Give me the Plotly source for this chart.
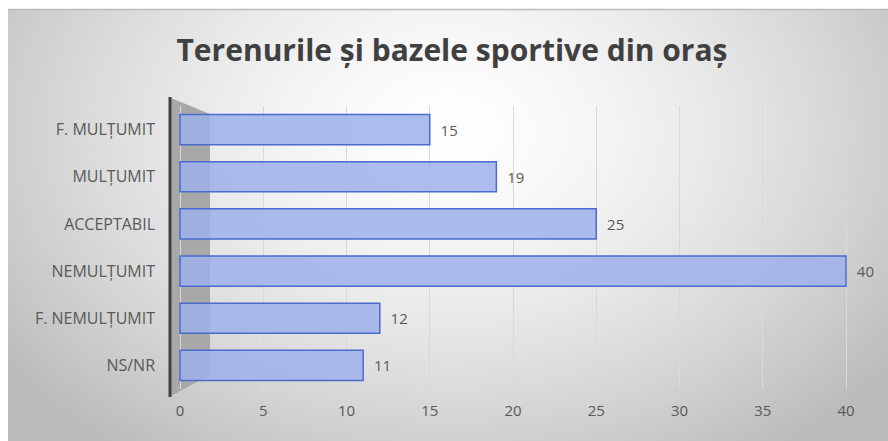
import base64
import struct
import zlib

import numpy as np
import plotly.graph_objects as go

# ---- data (top-to-bottom in the reference) ----
categories = ["F. MULȚUMIT", "MULȚUMIT", "ACCEPTABIL", "NEMULȚUMIT", "F. NEMULȚUMIT", "NS/NR"]
values = [15, 19, 25, 40, 12, 11]
x_ticks = [0, 5, 10, 15, 20, 25, 30, 35, 40]
title_text = "Terenurile și bazele sportive din oraș"

# ---- layout geometry (pixels) ----
W, H = 888, 441
ML, MR, MT, MB = 170, 18, 106, 52
PW, PH = W - ML - MR, H - MT - MB
X0_PX, X40_PX = 180, 846
ppu = (X40_PX - X0_PX) / 40.0
x_range = [(ML - X0_PX) / ppu, (W - MR - X0_PX) / ppu]


def px(xp):
    return (xp - ML) / PW


def py(yp):
    return (H - MB - yp) / PH


# ---- radial gradient background as PNG ----
def gradient_png(w, h):
    yy, xx = np.mgrid[0:h, 0:w].astype(float)
    cx, cy, rx, ry = w * 0.50, h * 0.28, w * 0.58, h * 0.85
    t = np.sqrt(((xx - cx) / rx) ** 2 + ((yy - cy) / ry) ** 2)
    t = np.clip(t, 0, 1.15)
    g = 255 - 60 * (t ** 1.5)
    g = np.clip(g, 188, 255).astype(np.uint8)
    raw = b"".join(b"\x00" + g[r].tobytes() for r in range(h))

    def chunk(tag, data):
        c = struct.pack(">I", len(data)) + tag + data
        return c + struct.pack(">I", zlib.crc32(tag + data) & 0xFFFFFFFF)

    png = b"\x89PNG\r\n\x1a\n"
    png += chunk(b"IHDR", struct.pack(">IIBBBBB", w, h, 8, 0, 0, 0, 0))
    png += chunk(b"IDAT", zlib.compress(raw, 9))
    png += chunk(b"IEND", b"")
    return "data:image/png;base64," + base64.b64encode(png).decode()


BG_X0, BG_Y0 = 8, 9
bg_w, bg_h = W - BG_X0, H - BG_Y0
bg_src = gradient_png(bg_w // 2, bg_h // 2)

cats_plot = categories[::-1]
vals_plot = values[::-1]

fig = go.Figure()
fig.add_trace(
    go.Bar(
        y=cats_plot,
        x=vals_plot,
        orientation="h",
        marker=dict(color="rgba(158,178,234,0.85)", line=dict(color="#4a6bd0", width=1.5)),
        text=["  " + str(v) for v in vals_plot],
        textposition="outside",
        textfont=dict(family="Open Sans", size=15, color="#595959"),
        cliponaxis=False,
        hoverinfo="skip",
    )
)

wall_path = "M {} {} L {} {} L {} {} L {} {} Z".format(
    px(171), py(98), px(210), py(114), px(210), py(375), px(171), py(396)
)

fig.update_layout(
    width=W,
    height=H,
    margin=dict(l=ML, r=MR, t=MT, b=MB),
    paper_bgcolor="white",
    plot_bgcolor="rgba(0,0,0,0)",
    showlegend=False,
    bargap=0.36,
    title=dict(
        text=title_text,
        x=452 / W,
        xanchor="center",
        xref="container",
        y=1 - 50 / H,
        yanchor="middle",
        yref="container",
        font=dict(family="Open Sans", size=30, color="#404040", weight=700),
    ),
    xaxis=dict(
        range=x_range,
        tickvals=x_ticks,
        ticktext=[str(t) for t in x_ticks],
        showgrid=True,
        gridcolor="#d9d9d9",
        gridwidth=1,
        zeroline=False,
        showline=False,
        ticks="",
        ticklabelstandoff=11,
        tickfont=dict(family="Open Sans", size=15, color="#595959"),
        fixedrange=True,
    ),
    yaxis=dict(
        categoryorder="array",
        categoryarray=cats_plot,
        showgrid=False,
        zeroline=False,
        showline=False,
        ticks="",
        ticklabelstandoff=14,
        tickfont=dict(family="Open Sans", size=16, color="#595959"),
        fixedrange=True,
    ),
    images=[
        dict(
            source=bg_src,
            xref="paper",
            yref="paper",
            x=px(BG_X0),
            y=py(BG_Y0),
            sizex=bg_w / PW,
            sizey=bg_h / PH,
            xanchor="left",
            yanchor="top",
            sizing="stretch",
            layer="below",
        )
    ],
    shapes=[
        dict(type="line", xref="paper", yref="paper",
             x0=px(BG_X0), x1=px(W), y0=py(BG_Y0 + 0.5), y1=py(BG_Y0 + 0.5),
             line=dict(color="#bdbdbd", width=1.5), layer="below"),
        dict(type="path", path=wall_path, xref="paper", yref="paper",
             fillcolor="#a8a8a8", line=dict(width=0), layer="below"),
        dict(type="line", xref="paper", yref="paper",
             x0=px(170), x1=px(170), y0=py(97), y1=py(397),
             line=dict(color="#404040", width=3), layer="above"),
    ],
)

fig.write_html(
    "out.html",
    config={"displayModeBar": False},
    post_script="document.body.style.margin='0';document.body.style.padding='0';",
)
